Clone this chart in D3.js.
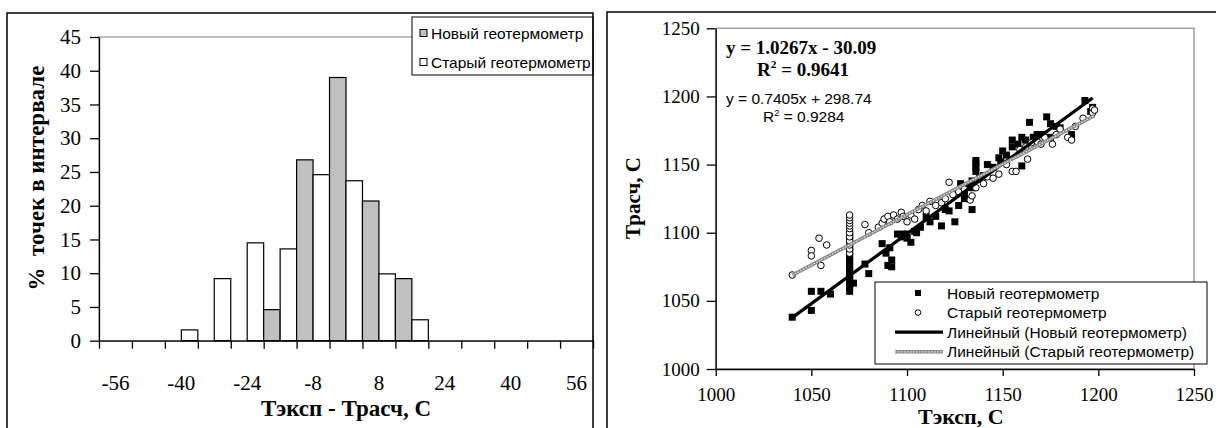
<!DOCTYPE html>
<html>
<head>
<meta charset="utf-8">
<script src="https://cdn.jsdelivr.net/npm/d3@7"></script>
<style>
  body{margin:0;background:#fff}
  svg{display:block}
</style>
</head>
<body>
<svg id="chart"></svg>
<script>
// ---------- histogram data ----------
let histCats=[-56,-48,-40,-32,-24,-16,-8,0,8,16,24,32,40,48,56]
let histNew=[0,0,0,0,0,4.6,26.8,39.0,20.7,9.2,0,0,0,0,0]
let histOld=[0,0,1.6,9.2,14.5,13.6,24.6,23.7,9.9,3.1,0,0,0,0,0]
let histLabels=[-56,-40,-24,-8,8,24,40,56]
let histYTicks=[0,5,10,15,20,25,30,35,40,45]

// ---------- scatter data ----------
let newPts=[[1040,1038],[1050,1057],[1050,1043],[1055,1057],[1060,1055],
  [1070,1057],[1070,1060],[1070,1062],[1070,1064],[1070,1066],[1070,1068],[1070,1070],[1070,1072],
  [1070,1074],[1070,1076],[1070,1078],[1070,1080],[1070,1082],[1070,1084],[1070,1086],[1070,1088],
  [1070,1090],[1070,1092],[1070,1094],[1070,1096],[1070,1098],[1070,1100],
  [1072,1063],[1078,1077],[1080,1070],[1087,1092],[1089,1085],[1091,1089],[1092,1080],[1092,1075],
  [1090,1076],[1095,1099],[1097,1097],[1098,1099],[1100,1099],[1100,1096],[1102,1093],[1104,1101],
  [1105,1100],[1107,1104],[1110,1112],[1112,1108],[1115,1112],[1118,1105],[1120,1117],[1122,1116],
  [1125,1108],[1127,1120],[1128,1136],[1130,1131],[1130,1128],[1130,1125],[1132,1134],[1134,1133],
  [1134,1138],[1134,1117],[1136,1145],[1136,1148],[1136,1151],[1136,1153],[1138,1140],[1140,1142],
  [1142,1150],[1145,1148],[1148,1155],[1149,1152],[1150,1160],[1152,1157],[1155,1163],[1155,1168],
  [1158,1165],[1160,1149],[1160,1170],[1162,1168],[1164,1181],[1166,1170],[1168,1172],[1170,1172],
  [1173,1185],[1175,1180],[1175,1170],[1178,1178],[1180,1177],[1186,1172],[1186,1170],[1193,1197],
  [1196,1189],[1197,1192]]
let oldPts=[[1040,1069],[1050,1087],[1050,1083],[1054,1096],[1055,1076],[1058,1091],
  [1070,1085],[1070,1088],[1070,1091],[1070,1094],[1070,1097],[1070,1100],[1070,1103],[1070,1105],
  [1070,1107],[1070,1109],[1070,1111],[1070,1113],
  [1078,1106],[1080,1100],[1085,1104],[1087,1107],[1088,1110],[1090,1112],[1091,1108],[1093,1113],
  [1095,1110],[1097,1115],[1098,1112],[1100,1108],[1102,1113],[1104,1110],[1106,1117],[1108,1120],
  [1110,1116],[1112,1123],[1115,1120],[1118,1122],[1120,1125],[1122,1137],[1124,1128],[1127,1130],
  [1130,1132],[1133,1124],[1134,1127],[1136,1133],[1139,1139],[1140,1136],[1142,1141],[1145,1140],
  [1148,1143],[1152,1150],[1155,1145],[1157,1145],[1159,1161],[1162,1163],[1163,1154],[1165,1166],
  [1168,1167],[1170,1165],[1172,1170],[1176,1165],[1178,1172],[1180,1176],[1184,1170],[1186,1168],
  [1188,1178],[1192,1184],[1197,1191],[1197,1188],[1198,1190]]
let fitNew={a:1.0267,b:-30.09,r2:'0.9641'}
let fitOld={a:0.7405,b:298.74,r2:'0.9284'}
let scatTicks=[1000,1050,1100,1150,1200,1250]

let W=1216,H=428
let serif='"Liberation Serif","Times New Roman",serif'
let sans='"Liberation Sans",Arial,sans-serif'
let svg=d3.select('#chart').attr('width',W).attr('height',H)
svg.append('rect').attr('width',W).attr('height',H).attr('fill','#fff')

// ================= left: histogram =================
let hm={left:99,right:593,top:37,bottom:340.7}
let hg=svg.append('g')

let xband=d3.scaleBand().domain(histCats).range([hm.left,hm.right]).padding(0)
let xsub=d3.scaleBand().domain(['new','old']).range([0,xband.bandwidth()])
let xidx=d3.scaleLinear().domain([0,histCats.length]).range([hm.left,hm.right])
let yh=d3.scaleLinear().domain([0,45]).range([hm.bottom,hm.top])

// plot area border (gray)
hg.append('rect').attr('x',hm.left).attr('y',hm.top)
  .attr('width',hm.right-hm.left).attr('height',hm.bottom-hm.top)
  .attr('fill','none').attr('stroke','#808080').attr('stroke-width',1)

let bars=[]
histCats.forEach((c,i)=>{
  bars.push({cat:c,s:'new',v:histNew[i]})
  bars.push({cat:c,s:'old',v:histOld[i]})
})
hg.selectAll('.bar').data(bars.filter(d=>d.v>0)).join('rect')
  .attr('class','bar')
  .attr('x',d=>xband(d.cat)+xsub(d.s))
  .attr('width',xsub.bandwidth())
  .attr('y',d=>yh(d.v))
  .attr('height',d=>yh(0)-yh(d.v))
  .attr('fill',d=>d.s=='new'?'#c0c0c0':'#fff')
  .attr('stroke','#000').attr('stroke-width',1.2)

let hyAxis=hg.append('g').attr('transform',`translate(${hm.left},0)`)
  .call(d3.axisLeft(yh).tickValues(histYTicks).tickSize(9).tickSizeOuter(0).tickPadding(9))
let hxAxis=hg.append('g').attr('transform',`translate(0,${hm.bottom})`)
  .call(d3.axisBottom(xidx).tickValues(d3.range(histCats.length+1)).tickSize(8).tickSizeOuter(0).tickFormat(''))
;[hyAxis,hxAxis].forEach(a=>{
  a.selectAll('path,line').attr('stroke','#000').attr('stroke-width',1.3)
  a.selectAll('text').style('font-family',serif).style('font-size','21px').attr('fill','#000')
})

hg.selectAll('.xlab').data(histLabels).join('text')
  .attr('x',d=>xband(d)+xband.bandwidth()/2)
  .attr('y',390)
  .attr('text-anchor','middle')
  .style('font-family',serif).style('font-size','21px')
  .text(d=>d)

hg.append('text').attr('x',(hm.left+hm.right)/2).attr('y',416)
  .attr('text-anchor','middle')
  .style('font-family',serif).style('font-size','23px').style('font-weight','bold')
  .text('Тэксп - Трасч, С')
hg.append('text')
  .attr('transform','translate(44,178) rotate(-90)')
  .attr('text-anchor','middle')
  .style('font-family',serif).style('font-size','23px').style('font-weight','bold')
  .attr('xml:space','preserve')
  .text('%  точек в интервале')

// legend
let hl=hg.append('g')
hl.append('rect').attr('x',412).attr('y',17).attr('width',181).attr('height',58)
  .attr('fill','#fff').attr('stroke','#000').attr('stroke-width',1)
let histSeries=[{name:'Новый геотермометр',fill:'#c0c0c0'},{name:'Старый геотермометр',fill:'#fff'}]
histSeries.forEach((s,i)=>{
  let cy=33+i*29
  hl.append('rect').attr('x',420).attr('y',cy-3.5).attr('width',7).attr('height',7)
    .attr('fill',s.fill).attr('stroke','#000').attr('stroke-width',1)
  hl.append('text').attr('x',431).attr('y',cy).attr('dy','0.36em')
    .style('font-family',sans).style('font-size','15.5px').text(s.name)
})

// outer frame
svg.append('rect').attr('x',7).attr('y',13).attr('width',586).attr('height',440)
  .attr('fill','none').attr('stroke','#000').attr('stroke-width',1.5)

// ================= right: scatter =================
let sm={left:715.7,right:1194,top:28.3,bottom:369}
let sg=svg.append('g')
let xs=d3.scaleLinear().domain([1000,1250]).range([sm.left,sm.right])
let ys=d3.scaleLinear().domain([1000,1250]).range([sm.bottom,sm.top])

sg.append('rect').attr('x',sm.left).attr('y',sm.top)
  .attr('width',sm.right-sm.left).attr('height',sm.bottom-sm.top)
  .attr('fill','none').attr('stroke','#a0a0a0').attr('stroke-width',1.5)

let syAxis=sg.append('g').attr('transform',`translate(${sm.left},0)`)
  .call(d3.axisLeft(ys).tickValues(scatTicks).tickFormat(d3.format('d')).tickSize(9).tickSizeOuter(0).tickPadding(7))
let sxAxis=sg.append('g').attr('transform',`translate(0,${sm.bottom})`)
  .call(d3.axisBottom(xs).tickValues(scatTicks).tickFormat(d3.format('d')).tickSize(7).tickSizeOuter(0).tickPadding(12))
;[syAxis,sxAxis].forEach(a=>{
  a.selectAll('path,line').attr('stroke','#000').attr('stroke-width',1.3)
  a.selectAll('text').style('font-family',serif).style('font-size','19px').attr('fill','#000')
})

// markers
sg.selectAll('.sq').data(newPts).join('rect').attr('class','sq')
  .attr('x',d=>xs(d[0])-3.5).attr('y',d=>ys(d[1])-3.5)
  .attr('width',7).attr('height',7).attr('fill','#000')
sg.selectAll('.ci').data(oldPts).join('circle').attr('class','ci')
  .attr('cx',d=>xs(d[0])).attr('cy',d=>ys(d[1])).attr('r',3.3)
  .attr('fill','#fff').attr('stroke','#000').attr('stroke-width',1)

// trend lines
let line=d3.line().x(d=>xs(d[0])).y(d=>ys(d[1]))
function trend(pts,f){
  let ext=d3.extent(pts,d=>d[0])
  return ext.map(x=>[x,f.a*x+f.b])
}
sg.append('path').attr('d',line(trend(newPts,fitNew)))
  .attr('stroke','#000').attr('stroke-width',3.2).attr('fill','none')
let oldTrend=line(trend(oldPts,fitOld))
sg.append('path').attr('d',oldTrend).attr('stroke','#888').attr('stroke-width',3.6).attr('fill','none')
sg.append('path').attr('d',oldTrend).attr('stroke','#e8e8e8').attr('stroke-width',1.2)
  .attr('stroke-dasharray','1.5,1.5').attr('fill','none')

// equations
function eqText(x,y,str,r2,bold,font,size,r2x){
  let t=sg.append('text').attr('x',x).attr('y',y)
    .style('font-family',font).style('font-size',size+'px').style('font-weight',bold?'bold':'normal')
    .attr('xml:space','preserve').text(str)
  let r=sg.append('text').attr('x',r2x).attr('y',y+(bold?22:18))
    .style('font-family',font).style('font-size',size+'px').style('font-weight',bold?'bold':'normal')
  r.append('tspan').text('R')
  r.append('tspan').attr('dy',-size*0.4).style('font-size',(size*0.6)+'px').text('2')
  r.append('tspan').attr('dy',size*0.4).text(' = '+r2)
}
eqText(726,54,'y = '+fitNew.a+'x - '+Math.abs(fitNew.b).toFixed(2),fitNew.r2,true,serif,19,757)
eqText(726,104,'y = '+fitOld.a+'x + '+fitOld.b,fitOld.r2,false,sans,15.5,763)

// axis titles
sg.append('text').attr('x',(sm.left+sm.right)/2+6).attr('y',424)
  .attr('text-anchor','middle')
  .style('font-family',serif).style('font-size','22px').style('font-weight','bold')
  .text('Тэксп, С')
sg.append('text').attr('transform','translate(640,198) rotate(-90)')
  .attr('text-anchor','middle')
  .style('font-family',serif).style('font-size','21px').style('font-weight','bold')
  .text('Трасч, С')

// legend
let sl=sg.append('g')
sl.append('rect').attr('x',875).attr('y',282).attr('width',332).attr('height',82)
  .attr('fill','#fff').attr('stroke','#000').attr('stroke-width',1)
let legRows=['Новый геотермометр','Старый геотермометр','Линейный (Новый геотермометр)','Линейный (Старый геотермометр)']
legRows.forEach((name,i)=>{
  let cy=293+i*19.6
  if(i==0) sl.append('rect').attr('x',915).attr('y',cy-3).attr('width',6).attr('height',6).attr('fill','#000')
  if(i==1) sl.append('circle').attr('cx',918).attr('cy',cy).attr('r',2.8).attr('fill','#fff').attr('stroke','#000')
  if(i==2) sl.append('line').attr('x1',895).attr('x2',943).attr('y1',cy).attr('y2',cy).attr('stroke','#000').attr('stroke-width',3.2)
  if(i==3){
    sl.append('line').attr('x1',895).attr('x2',943).attr('y1',cy).attr('y2',cy).attr('stroke','#888').attr('stroke-width',3.6)
    sl.append('line').attr('x1',895).attr('x2',943).attr('y1',cy).attr('y2',cy).attr('stroke','#e8e8e8')
      .attr('stroke-width',1.2).attr('stroke-dasharray','1.5,1.5')
  }
  sl.append('text').attr('x',947).attr('y',cy).attr('dy','0.36em')
    .style('font-family',sans).style('font-size','15.5px').text(name)
})

// outer frame
svg.append('rect').attr('x',607).attr('y',12).attr('width',640).attr('height',440)
  .attr('fill','none').attr('stroke','#000').attr('stroke-width',1.5)
</script>
</body>
</html>
